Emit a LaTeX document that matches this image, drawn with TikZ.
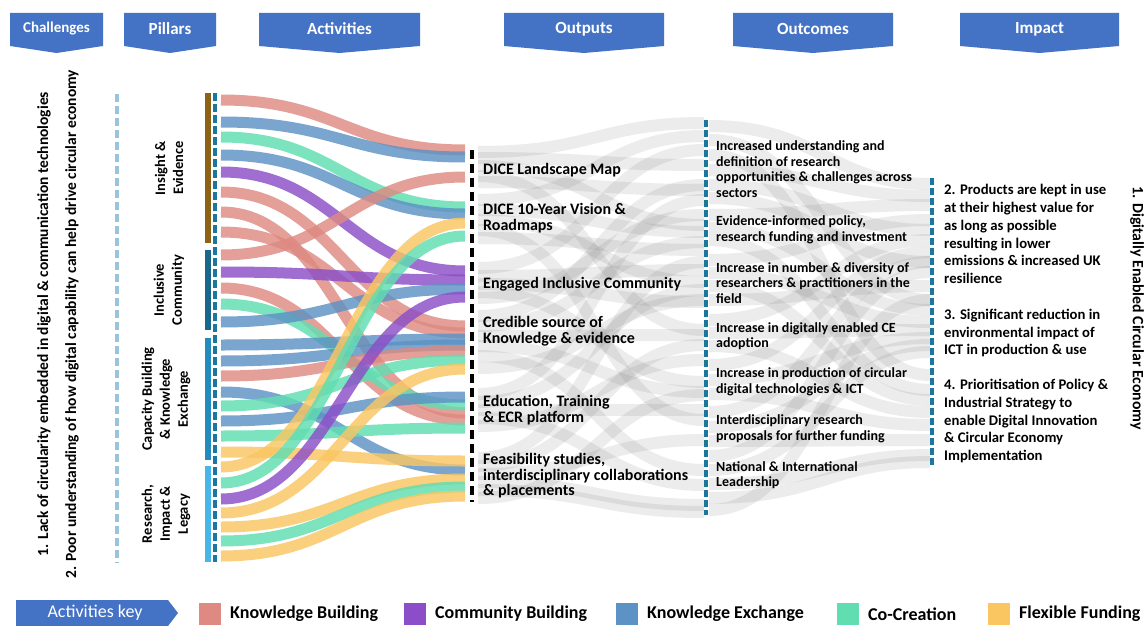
\documentclass[tikz,border=0pt]{standalone}
\usepackage{fontspec}
\setmainfont{Carlito}
\usetikzlibrary{positioning}

\definecolor{hdrblue}{RGB}{68,114,196}
\definecolor{kbuild}{RGB}{222,138,130}
\definecolor{cbuild}{RGB}{140,78,200}
\definecolor{kexch}{RGB}{92,146,196}
\definecolor{cocre}{RGB}{96,222,178}
\definecolor{ffund}{RGB}{250,198,98}
\definecolor{insight}{RGB}{140,98,22}
\definecolor{inclusive}{RGB}{24,104,140}
\definecolor{capacity}{RGB}{34,140,190}
\definecolor{research}{RGB}{72,182,232}
\definecolor{tealdash}{RGB}{28,118,158}
\definecolor{chaldash}{RGB}{152,196,220}

\newcommand{\hdrfont}{\fontsize{17}{19}\selectfont\bfseries}
\newcommand{\chalfont}{\fontsize{15.5}{17}\selectfont\bfseries}
\newcommand{\pilfont}{\fontsize{14.5}{18}\selectfont\bfseries}
\newcommand{\outfont}{\fontsize{16}{15.6}\selectfont\bfseries}
\newcommand{\ocfont}{\fontsize{14}{15.5}\selectfont\bfseries}
\newcommand{\impfont}{\fontsize{14.7}{17.8}\selectfont\bfseries}
\newcommand{\keyfont}{\fontsize{18}{20}\selectfont\bfseries}

\begin{document}
\begin{tikzpicture}[x=1pt,y=-1pt]
        \tikzstyle{every node} = [inner sep=0pt]
        \tikzstyle{hdr} = [fill=hdrblue]
        \tikzstyle{hdrtext} = [text=white, font=\hdrfont]
        \tikzstyle{flow} = [line width=11pt, draw opacity=.82]
        \tikzstyle{grayflow} = [line width=12pt, draw=black!50, draw opacity=.15]
        \tikzstyle{outtext} = [anchor=west, align=left, font=\outfont]
        \tikzstyle{octext} = [anchor=west, align=left, font=\ocfont]
        \tikzstyle{imptext} = [anchor=west, align=left, font=\impfont]
        \tikzstyle{piltext} = [rotate=90, align=center, font=\pilfont]
        \tikzstyle{keytext} = [anchor=west, font=\keyfont]
        \fill[white] (0,0) rectangle (1146,626);
        \useasboundingbox (0,0) rectangle (1146,626);

        % headers
        \foreach \nm/\xa/\xb/\txt in {pillars/124/216/Pillars, activities/259/420/Activities,
            outputs/504/664/Outputs, outcomes/733/893/Outcomes, impact/960/1119/Impact} {
            \fill[hdr] (\xa,13) -- (\xb,13) -- (\xb,46) -- ({(\xa+\xb)/2},53) -- (\xa,46) -- cycle;
            \node[hdrtext] (h\nm) at ({(\xa+\xb)/2},29) {\txt};
        }
        \fill[hdr] (10,13) -- (103,13) -- (103,46) -- (56.5,53) -- (10,46) -- cycle;
        \node[hdrtext, font=\fontsize{15}{17}\selectfont\bfseries] (hchallenges) at (56.5,29) {Challenges};

        % gray flows outputs -> outcomes
        \foreach \ya/\yb in {152/123, 158/165, 166/225, 176/330, 182/190, 200/136, 210/232, 220/282, 230/420, 238/250,
            268/150, 276/270, 284/302, 292/382, 298/215, 316/185, 326/242, 336/335, 346/392, 356/470, 368/300,
            394/200, 402/290, 410/410, 418/485, 426/360, 458/262, 466/345, 474/440, 482/505, 490/512, 498/395} {
            \coordinate (ga) at (478,\ya);
            \coordinate (gb) at (704,\yb);
            \draw[grayflow] (ga) .. controls +(115,0) and +(-105,0) .. (gb);
        }
        % gray flows outcomes -> impact
        \foreach \ya/\yb in {126/184, 140/300, 155/375, 170/196, 185/230, 198/262, 215/205, 228/310, 240/390,
            260/220, 273/322, 286/400, 300/286, 320/240, 333/330, 346/412, 365/252, 380/338, 394/425,
            412/262, 427/345, 441/440, 456/272, 470/352, 484/455, 498/462, 510/300} {
            \coordinate (ga) at (709,\ya);
            \coordinate (gb) at (930,\yb);
            \draw[grayflow] (ga) .. controls +(110,0) and +(-100,0) .. (gb);
        }

        % activities -> outputs
        \foreach \i/\yl/\yr/\c in {1/100/150/kbuild, 2/122/157/kexch, 3/137/207/cocre, 4/155/214/kexch,
            5/172/271/cbuild, 6/192/326/kbuild, 7/212/413/kbuild, 8/232/333/kbuild,
            9/255/177/kbuild, 10/272/280/cbuild, 11/288/420/kbuild, 12/304/405/cocre, 13/322/289/kexch,
            14/345/339/kexch, 15/361/345/kexch, 16/376/351/kbuild, 17/392/470/kexch, 18/406/360/cocre,
            19/421/397/kexch, 20/436/428/cocre, 21/452/461/ffund,
            22/467/223/ffund, 23/483/236/cocre, 24/499/297/cbuild, 25/513/369/ffund, 26/527/479/ffund,
            27/541/487/cocre, 28/556/496/ffund} {
            \coordinate (act\i) at (221,\yl);
            \coordinate (out\i) at (465,\yr);
            \draw[flow, draw=\c] (act\i) .. controls +(115,0) and +(-115,0) .. (out\i);
        }

        % challenges
        \node[rotate=90, font=\chalfont] (chal1) at (44,324) {1. Lack of circularity embedded in digital \& communication technologies};
        \node[rotate=90, font=\chalfont] (chal2) at (72,324) {2. Poor understanding of how digital capability can help drive circular economy};
        \draw[chaldash, line width=3.5pt, dash pattern=on 8pt off 4pt] (117,94) -- (117,563);

        % pillars
        \fill[insight] (205,93) rectangle (211,243);
        \fill[inclusive] (205,250) rectangle (211,330);
        \fill[capacity] (205,338) rectangle (211,460);
        \fill[research] (205,466) rectangle (211,562);
        \draw[tealdash, line width=4pt, dash pattern=on 8pt off 3pt] (215,93) -- (215,562);
        \node[piltext] (insight) at (169,168) {Insight \&\\Evidence};
        \node[piltext] (inclusive) at (169,290) {Inclusive\\Community};
        \node[piltext] (capacity) at (166,399) {Capacity Building\\\& Knowledge\\Exchange};
        \node[piltext] (research) at (166,514) {Research,\\Impact \&\\Legacy};

        % outputs
        \draw[line width=4pt, dash pattern=on 9pt off 5pt] (472,150) -- (472,502);
        \node[outtext] (mapOut) at (483,170) {DICE Landscape Map};
        \node[outtext] (visionOut) at (483,218) {DICE 10-Year Vision \&\\Roadmaps};
        \node[outtext] (communityOut) at (483,284) {Engaged Inclusive Community};
        \node[outtext] (credibleOut) at (483,331) {Credible source of\\Knowledge \& evidence};
        \node[outtext] (educationOut) at (483,410) {Education, Training\\\& ECR platform};
        \node[outtext] (feasibilityOut) at (483,476) {Feasibility studies,\\interdisciplinary collaborations\\\& placements};

        % outcomes
        \draw[tealdash, line width=3.5pt, dash pattern=on 7pt off 3pt] (706,120) -- (706,515);
        \node[octext] (understandingOc) at (716,169) {Increased understanding and\\definition of research\\opportunities \& challenges across\\sectors};
        \node[octext] (policyOc) at (716,230) {Evidence-informed policy,\\research funding and investment};
        \node[octext] (diversityOc) at (716,283) {Increase in number \& diversity of\\researchers \& practitioners in the\\field};
        \node[octext] (adoptionOc) at (716,336) {Increase in digitally enabled CE\\adoption};
        \node[octext] (productionOc) at (716,382) {Increase in production of circular\\digital technologies \& ICT};
        \node[octext] (proposalsOc) at (716,429) {Interdisciplinary research\\proposals for further funding};
        \node[octext] (leadershipOc) at (716,475) {National \& International\\Leadership};

        % impact
        \draw[tealdash, line width=3.5pt, dash pattern=on 7pt off 3pt] (932,178) -- (932,467);
        \node[imptext] (productsImp) at (944,234) {2. Products are kept in use\\at their highest value for\\as long as possible\\resulting in lower\\emissions \& increased UK\\resilience};
        \node[imptext] (reductionImp) at (944,333) {3. Significant reduction in\\environmental impact of\\ICT in production \& use};
        \node[imptext] (policyImp) at (944,421) {4. Prioritisation of Policy \&\\Industrial Strategy to\\enable Digital Innovation\\\& Circular Economy\\Implementation};
        \node[rotate=-90, font=\fontsize{15.8}{17}\selectfont\bfseries] (goal) at (1137,308) {1. Digitally Enabled Circular Economy};

        % activities key
        \fill[hdr] (16,600) -- (168,600) -- (178,613) -- (168,626) -- (16,626) -- cycle;
        \node[text=white, font=\fontsize{18}{20}\selectfont] (keyhdr) at (95,613) {Activities key};
        \foreach \nm/\xs/\c/\txt in {kb/199/kbuild/Knowledge Building, cb/404/cbuild/Community Building,
            ke/616/kexch/Knowledge Exchange, cc/837/cocre/Co-Creation, ff/988/ffund/Flexible Funding} {
            \fill[\c] (\xs,603) rectangle +(22,22);
            \node[keytext] (key\nm) at (\xs+31,614) {\txt};
        }
\end{tikzpicture}
\end{document}
